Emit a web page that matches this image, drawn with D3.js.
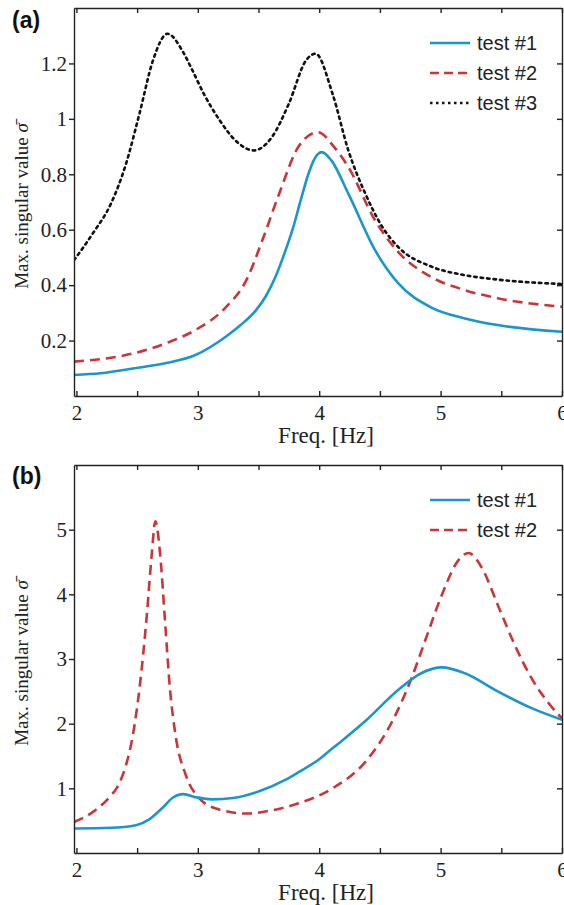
<!DOCTYPE html>
<html>
<head>
<meta charset="utf-8">
<script src="https://cdn.jsdelivr.net/npm/d3@7"></script>
<style>
  body { margin: 0; background: #fff; }
  svg { display: block; }
</style>
</head>
<body>
<div id="viz"></div>
<script>
// panel (a)
const a1Freq = [1.98, 2.2, 2.48, 2.75, 2.98, 3.23, 3.35, 3.48, 3.56, 3.64, 3.71, 3.78, 3.85, 3.91, 3.96, 4.02, 4.1, 4.24, 4.46, 4.65, 4.92, 5.2, 5.47, 6.0];
const a1Val  = [0.076, 0.082, 0.10, 0.12, 0.148, 0.214, 0.255, 0.31, 0.36, 0.43, 0.51, 0.60, 0.71, 0.80, 0.855, 0.88, 0.85, 0.73, 0.526, 0.407, 0.32, 0.28, 0.256, 0.232];

const a2Freq = [1.98, 2.48, 2.77, 2.98, 3.23, 3.40, 3.53, 3.67, 3.83, 3.99, 4.12, 4.24, 4.46, 4.65, 4.92, 5.2, 5.47, 6.0];
const a2Val  = [0.124, 0.155, 0.196, 0.238, 0.32, 0.418, 0.56, 0.73, 0.90, 0.952, 0.90, 0.826, 0.634, 0.52, 0.43, 0.382, 0.353, 0.322];

const a3Freq = [1.98, 2.14, 2.28, 2.41, 2.52, 2.63, 2.75, 2.88, 2.95, 3.05, 3.18, 3.31, 3.46, 3.61, 3.75, 3.89, 3.97, 4.11, 4.24, 4.38, 4.52, 4.65, 4.93, 5.2, 5.47, 6.0];
const a3Val  = [0.49, 0.59, 0.69, 0.84, 1.02, 1.21, 1.307, 1.24, 1.18, 1.09, 0.995, 0.922, 0.886, 0.934, 1.055, 1.21, 1.235, 1.09, 0.886, 0.73, 0.61, 0.538, 0.466, 0.436, 0.42, 0.404];

// panel (b)
const b1Freq = [1.98, 2.28, 2.49, 2.6, 2.71, 2.79, 2.88, 2.99, 3.12, 3.29, 3.5, 3.72, 3.83, 4.0, 4.11, 4.19, 4.38, 4.65, 4.84, 5.01, 5.2, 5.47, 5.75, 6.0];
const b1Val  = [0.38, 0.39, 0.43, 0.52, 0.70, 0.85, 0.91, 0.86, 0.83, 0.85, 0.95, 1.13, 1.25, 1.45, 1.62, 1.74, 2.04, 2.52, 2.78, 2.87, 2.78, 2.50, 2.24, 2.06];

const b2Freq = [1.98, 2.14, 2.28, 2.33, 2.38, 2.47, 2.52, 2.58, 2.62, 2.65, 2.69, 2.73, 2.77, 2.82, 2.90, 3.01, 3.18, 3.40, 3.61, 3.83, 4.11, 4.38, 4.6, 4.76, 4.87, 5.01, 5.14, 5.23, 5.34, 5.47, 5.61, 5.75, 5.88, 6.0];
const b2Val  = [0.48, 0.64, 0.88, 1.0, 1.2, 1.88, 2.55, 3.68, 4.61, 5.13, 4.61, 3.58, 2.55, 1.78, 1.21, 0.85, 0.67, 0.61, 0.66, 0.77, 1.0, 1.41, 2.03, 2.70, 3.27, 3.99, 4.51, 4.64, 4.41, 3.84, 3.22, 2.70, 2.34, 2.08];

const xTicks = [2, 2.5, 3, 3.5, 4, 4.5, 5, 5.5, 6];
const yTicksA = [0.2, 0.4, 0.6, 0.8, 1, 1.2];
const yTicksB = [1, 2, 3, 4, 5];
const seriesNames = ['test #1', 'test #2', 'test #3'];

const W = 564, H = 905;
const left = 74, right = 562;
const serif = '"Liberation Serif", "Times New Roman", serif';
const sans = '"Liberation Sans", Arial, sans-serif';

const styles = [
    { colour: '#1b95d0', dash: null, legendDash: null },
    { colour: '#c8363a', dash: '10,6', legendDash: '9,5' },
    { colour: '#111111', dash: '2.5,4', legendDash: '2.5,3.5' }
];

const svg = d3.select('#viz').append('svg')
    .attr('width', W)
    .attr('height', H);

function zip(xs, ys) {
    return xs.map((x, i) => [x, ys[i]]);
}

function drawPanel(opts) {
    const xScale = d3.scaleLinear().domain([1.98, 6]).range([left, right]);
    const yScale = d3.scaleLinear().domain(opts.yDomain).range([opts.bottom, opts.top]);

    const g = svg.append('g');
    const clipId = 'clip-' + opts.id;
    g.append('clipPath').attr('id', clipId)
        .append('rect')
        .attr('x', left).attr('y', opts.top)
        .attr('width', right - left).attr('height', opts.bottom - opts.top);

    const line = d3.line()
        .x(d => xScale(d[0]))
        .y(d => yScale(d[1]))
        .curve(d3.curveMonotoneX);

    // draw in reverse so test #1 ends on top
    opts.series.slice().reverse().forEach((s, ri) => {
        const i = opts.series.length - 1 - ri;
        g.append('path')
            .attr('clip-path', 'url(#' + clipId + ')')
            .attr('d', line(s))
            .attr('fill', 'none')
            .attr('stroke', styles[i].colour)
            .attr('stroke-width', 2.6)
            .attr('stroke-dasharray', styles[i].dash)
            .attr('stroke-linecap', i === 2 ? 'round' : 'butt');
    });

    const fmtX = d => Number.isInteger(d) ? d : '';

    g.append('g')
        .attr('transform', 'translate(0,' + opts.bottom + ')')
        .call(d3.axisBottom(xScale).tickValues(xTicks).tickFormat(fmtX)
            .tickSizeInner(-5).tickSizeOuter(0).tickPadding(9));
    g.append('g')
        .attr('transform', 'translate(0,' + opts.top + ')')
        .call(d3.axisTop(xScale).tickValues(xTicks).tickFormat('')
            .tickSizeInner(-5).tickSizeOuter(0));
    g.append('g')
        .attr('transform', 'translate(' + left + ',0)')
        .call(d3.axisLeft(yScale).tickValues(opts.yTicks).tickFormat(d3.format('~g'))
            .tickSizeInner(5).tickSizeOuter(0).tickPadding(2));
    g.append('g')
        .attr('transform', 'translate(' + right + ',0)')
        .call(d3.axisRight(yScale).tickValues(opts.yTicks).tickFormat('')
            .tickSizeInner(-5).tickSizeOuter(0));

    g.selectAll('.domain').attr('stroke', '#222').attr('stroke-width', 1.4);
    g.selectAll('.tick line').attr('stroke', '#222').attr('stroke-width', 1.4);
    g.selectAll('.tick text')
        .attr('fill', '#222')
        .style('font-family', serif)
        .style('font-size', '21px');

    // axis labels
    g.append('text')
        .attr('x', 326).attr('y', opts.bottom + 47)
        .attr('text-anchor', 'middle')
        .attr('fill', '#222')
        .style('font-family', serif)
        .style('font-size', '23px')
        .text('Freq. [Hz]');

    const yLab = g.append('text')
        .attr('transform', 'translate(28,' + ((opts.top + opts.bottom) / 2 + 4) + ') rotate(-90)')
        .attr('text-anchor', 'middle')
        .attr('fill', '#222')
        .style('font-family', serif)
        .style('font-size', '19px');
    yLab.append('tspan').text('Max. singular value ');
    yLab.append('tspan').style('font-style', 'italic').text('σ\u0304');

    // panel letter
    g.append('text')
        .attr('x', 12).attr('y', opts.top + opts.letterDy)
        .attr('fill', '#111')
        .style('font-family', sans)
        .style('font-weight', 'bold')
        .style('font-size', '23px')
        .text(opts.letter);

    // legend
    opts.series.forEach((s, i) => {
        const ly = opts.legendY + i * 30;
        g.append('line')
            .attr('x1', 430).attr('x2', 470)
            .attr('y1', ly).attr('y2', ly)
            .attr('stroke', styles[i].colour)
            .attr('stroke-width', 2.6)
            .attr('stroke-dasharray', styles[i].legendDash);
        g.append('text')
            .attr('x', 477).attr('y', ly + 7)
            .attr('fill', '#222')
            .style('font-family', sans)
            .style('font-size', '20px')
            .text(seriesNames[i]);
    });
}

drawPanel({
    id: 'a', letter: '(a)', letterDy: 20,
    top: 8, bottom: 396, yDomain: [0, 1.4], yTicks: yTicksA,
    legendY: 43,
    series: [zip(a1Freq, a1Val), zip(a2Freq, a2Val), zip(a3Freq, a3Val)]
});

drawPanel({
    id: 'b', letter: '(b)', letterDy: 19,
    top: 465, bottom: 853, yDomain: [0, 6], yTicks: yTicksB,
    legendY: 500,
    series: [zip(b1Freq, b1Val), zip(b2Freq, b2Val)]
});
</script>
</body>
</html>
